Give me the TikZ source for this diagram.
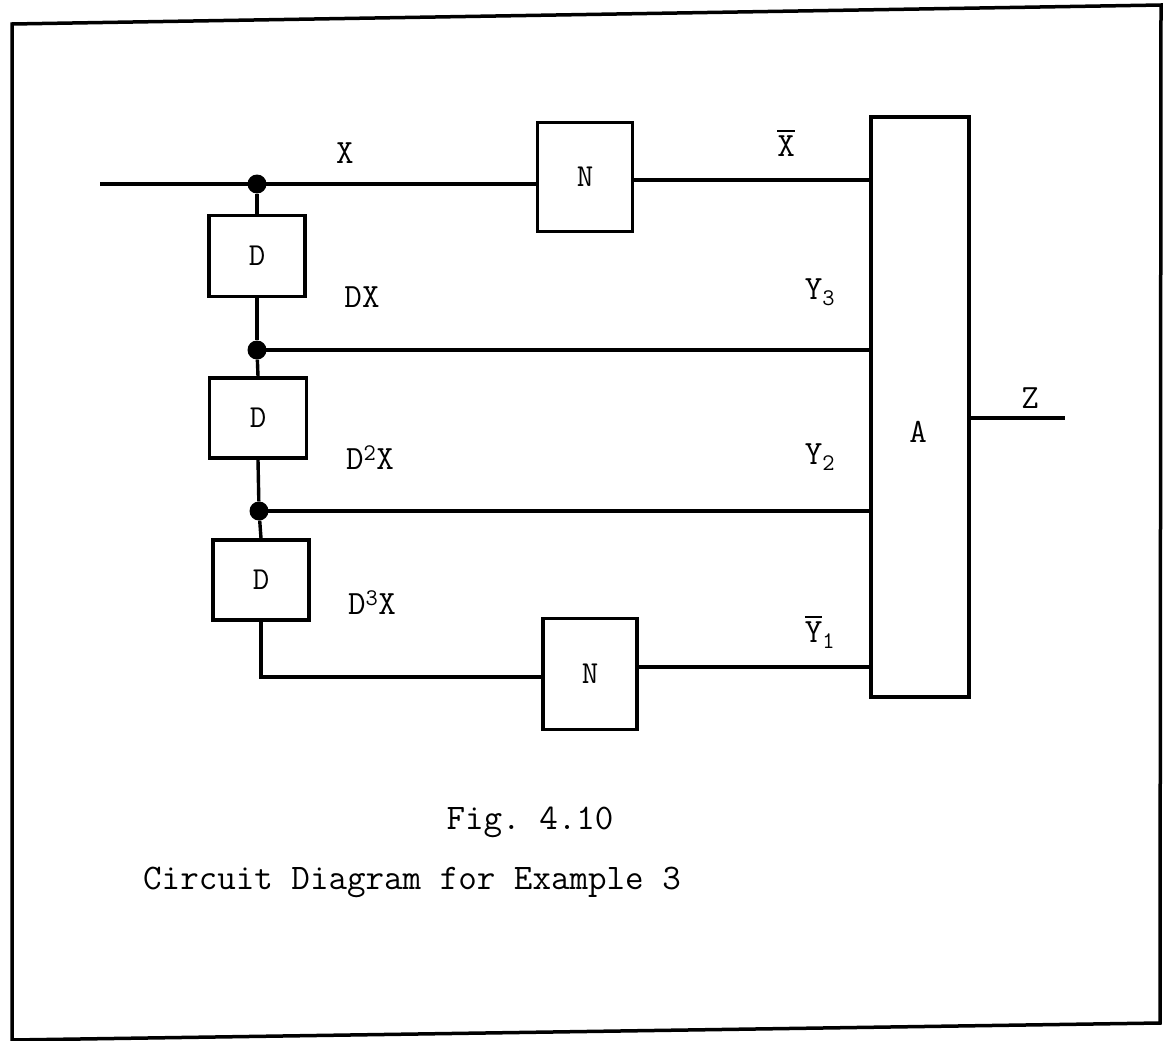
\documentclass[tikz,border=0pt]{standalone}
\usepackage{fontspec}
\setmonofont{Latin Modern Mono}
\newcommand\barred[1]{\setbox0\hbox{#1}\rlap{\raisebox{\dimexpr\ht0+3pt\relax}{\rule{\wd0}{2.6pt}}}\box0}
\begin{document}
\frenchspacing
\begin{tikzpicture}[x=1pt,y=-1pt,
  wire/.style={line width=3.4pt},
  blk/.style={draw,line width=3.4pt,inner sep=0pt,font=\ttfamily\fontsize{32}{36}\selectfont},
  jdot/.style={circle,fill=black,inner sep=0pt,minimum size=19pt},
  lbl/.style={font=\ttfamily\fontsize{34}{38}\selectfont,inner sep=0pt},
  captxt/.style={font=\ttfamily\fontsize{36}{42}\selectfont,inner sep=0pt}]
\useasboundingbox (0,0) rectangle (1167,1041);
% frame
\draw[line width=3.5pt] (12,24) -- (1161,5) -- (1160,1023) -- (12,1040) -- cycle;
% blocks
\node[blk,minimum width=96pt,minimum height=81pt] (D1) at (257,256) {D};
\node[blk,minimum width=97pt,minimum height=80pt] (D2) at (258,418) {D};
\node[blk,minimum width=96pt,minimum height=80pt] (D3) at (261,580) {D};
\node[blk,minimum width=95pt,minimum height=109pt] (N1) at (585,177) {N};
\node[blk,minimum width=94pt,minimum height=111pt] (N2) at (590,674) {N};
\node[blk,minimum width=98pt,minimum height=580pt] (A) at (920,407) {};
\node[lbl] (Alab) at (918,432) {A};
% junctions
\coordinate (in) at (100,184);
\node[jdot] (j1) at (257,184) {};
\node[jdot] (j2) at (257,350) {};
\node[jdot] (j3) at (259,511) {};
\coordinate (zend) at (1065,418);
% wires
\draw[wire] (in) -- (j1.center) -- (j1.center -| N1.west);
\draw[wire] (j1) -- (D1.north);
\draw[wire] (D1.south) -- (j2);
\draw[wire] (j2) -- (D2.north);
\draw[wire] (D2.south) -- (j3);
\draw[wire] (j3) -- (D3.north);
\draw[wire] (N1.east |- 0,180) -- (A.west |- 0,180);
\draw[wire] (j2.center) -- (j2.center -| A.west);
\draw[wire] (j3.center) -- (j3.center -| A.west);
\draw[wire] (D3.south) -- (D3.south |- 0,677) -- (N2.west |- 0,677);
\draw[wire] (N2.east |- 0,667) -- (A.west |- 0,667);
\draw[wire] (A.east |- zend) -- (zend);
% labels
\node[lbl] (lX) at (345,153) {X};
\node[lbl] (lXb) at (786,143) {\barred{X}};
\node[lbl] (lDX) at (362,297) {DX};
\node[lbl] (lD2X) at (370,458) {D\textsuperscript{2}X};
\node[lbl] (lD3X) at (372,603) {D\textsuperscript{3}X};
\node[lbl] (lY3) at (820,292) {Y\textsubscript{3}};
\node[lbl] (lY2) at (820,457) {Y\textsubscript{2}};
\node[lbl] (lY1) at (820,632) {\barred{Y}\textsubscript{1}};
\node[lbl] (lZ) at (1030,398) {Z};
% captions
\node[captxt] (fig) at (530,822) {Fig. 4.10};
\node[captxt] (title) at (412,882) {Circuit Diagram for Example 3};
\end{tikzpicture}
\end{document}
